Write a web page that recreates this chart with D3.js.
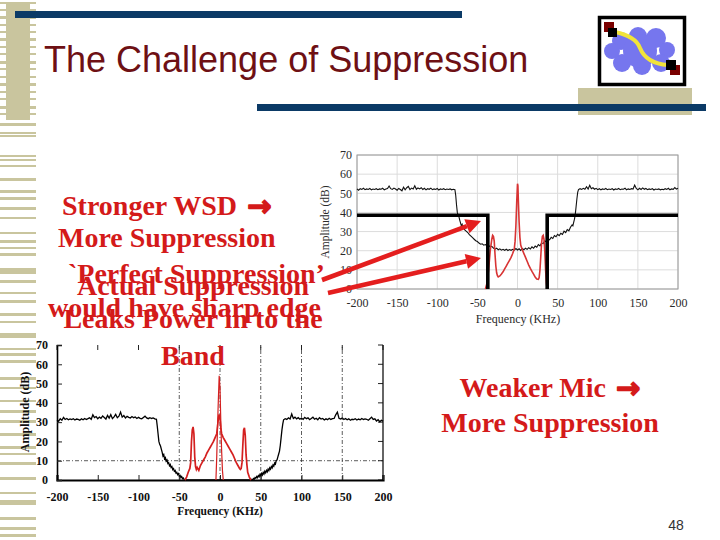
<!DOCTYPE html>
<html><head><meta charset="utf-8">
<script src="https://cdn.jsdelivr.net/npm/d3@7"></script>
<style>body{margin:0;background:#fff} svg{display:block}</style>
</head><body><svg id="c" width="720" height="540"></svg>
<script>
// ---------------- data ----------------
const xTicks = [-200,-150,-100,-50,0,50,100,150,200];
const yTicks = [0,10,20,30,40,50,60,70];
const bottomGridX = [-50,0,50,100,150];
const bottomGridY = [10];

const topBlack = [[-200,52.3],[-198,51.6],[-196,52.4],[-194,52.0],[-192,52.6],[-190,51.9],[-188,52.3],[-186,52.0],[-184,52.5],[-182,51.8],[-180,52.2],[-178,52.0],[-176,52.4],[-174,51.9],[-172,52.3],[-170,52.1],[-168,52.6],[-166,51.8],[-164,52.2],[-162,52.5],[-160,53.8],[-158,52.4],[-156,52.0],[-154,52.7],[-152,52.2],[-150,51.6],[-148,52.5],[-146,52.0],[-144,51.3],[-142,53.2],[-140,51.8],[-138,52.9],[-136,53.6],[-134,51.9],[-132,52.7],[-130,52.2],[-128,53.9],[-126,52.1],[-124,52.8],[-122,52.3],[-120,52.9],[-118,52.0],[-116,52.6],[-114,51.8],[-112,52.4],[-110,52.1],[-108,52.7],[-106,51.9],[-104,52.3],[-102,52.0],[-100,52.5],[-98,51.7],[-96,52.3],[-94,52.0],[-92,52.4],[-90,51.9],[-88,52.2],[-86,52.0],[-84,52.3],[-82,51.8],[-80,52.1],[-78,51.9],[-77,49],[-76,44],[-75,40],[-74,38.5],[-73,37.8],[-72,36],[-71,34.5],[-70,33],[-69,33.8],[-68,32],[-67,32.6],[-66,31],[-64,30.2],[-62,29.5],[-60,28.4],[-58,27.6],[-56,26.8],[-54,26],[-52,25.2],[-50,24.8],[-48,24],[-46,23.4],[-44,23.6],[-42,22.9],[-40,23.2],[-38,22.5],[-36,22.8],[-34,22],[-32,22.3],[-30,21.4],[-28,20.8],[-26,21.3],[-24,20.5],[-22,21],[-20,20.3],[-18,20.7],[-16,20.2],[-14,20.8],[-12,20.1],[-10,20.6],[-8,20.2],[-6,20.7],[-4,20.3],[-2,21.1],[0,20.4],[2,21],[4,20.2],[6,21.2],[8,20.5],[10,21.3],[12,20.7],[14,21.6],[16,20.9],[18,22],[20,21.3],[22,22.4],[24,21.8],[26,23.2],[28,22.5],[30,24.1],[32,23.7],[34,25.2],[36,24.6],[38,26.1],[40,25.7],[42,27],[44,26.4],[46,27.9],[48,27.3],[50,28.6],[52,27.9],[54,29.1],[56,28.5],[58,30.2],[60,29.5],[62,31],[64,30.4],[66,32.3],[68,33.5],[69,33],[70,34.8],[71,36.5],[72,39],[73,43],[74,47],[75,50.5],[76,51.9],[78,52.4],[80,52],[82,52.6],[84,52.1],[86,53.4],[88,52.2],[90,54.2],[92,52.4],[94,52.9],[96,52.1],[98,52.6],[100,51.9],[102,52.4],[104,51.8],[106,52.3],[108,52.0],[110,52.5],[112,51.9],[114,52.2],[116,52.0],[118,52.4],[120,51.7],[122,52.3],[124,52.0],[126,52.5],[128,51.9],[130,52.2],[132,52.1],[134,52.6],[136,51.8],[138,52.3],[140,52.0],[142,52.4],[144,52.2],[146,54.3],[148,52.5],[150,51.8],[152,52.6],[154,52.0],[156,52.8],[158,52.1],[160,52.5],[162,51.9],[164,52.3],[166,52.0],[168,52.4],[170,51.7],[172,52.2],[174,52.0],[176,52.3],[178,51.8],[180,52.1],[182,51.9],[184,52.4],[186,52.0],[188,52.6],[190,51.8],[192,52.3],[194,52.1],[196,53.0],[198,52.2],[200,52.6]];

const topRed = [[-40,0],[-38,3],[-36,10],[-34,20],[-32,26],[-31,28],[-30,27.5],[-29,25],[-28,18],[-27,12],[-26,8.5],[-25,7],[-24,6.3],[-22,6.8],[-20,7.8],[-18,9],[-16,10.5],[-14,12],[-12,13.5],[-10,15],[-8,16.5],[-6,18.5],[-4,21],[-3,25],[-2,33],[-1,45],[0,55],[0.5,54],[1,47],[2,35],[3,27],[4,23],[6,20.5],[8,18.5],[10,16.5],[12,14.5],[14,12.5],[16,10.8],[18,9.2],[20,7.8],[22,6.3],[24,5.2],[26,5],[27,6],[28,10],[29,17],[30,24],[31,27.5],[32,28],[33,26],[34,20],[35,10],[36,3],[37,0]];

const perfectLeft = [[-200,38.5],[-37,38.5],[-37,0]];
const perfectRight = [[37,0],[37,38.5],[200,38.5]];

const bottomBlack = [[-200,31.2],[-198,30.5],[-196,31.8],[-194,31.0],[-192,32.5],[-190,31.4],[-188,31.9],[-186,31.2],[-184,31.7],[-182,31.3],[-180,31.8],[-178,31.1],[-176,31.6],[-174,31.4],[-172,31.0],[-170,31.7],[-168,31.2],[-166,31.9],[-164,31.4],[-162,31.8],[-160,32.3],[-158,31.5],[-156,33.8],[-154,32.4],[-152,32.9],[-150,31.8],[-148,32.6],[-146,32.0],[-144,33.2],[-142,32.4],[-140,31.6],[-138,33.5],[-136,32.1],[-134,33.9],[-132,31.8],[-130,32.7],[-128,34.0],[-126,32.3],[-124,33.1],[-122,35.2],[-120,32.6],[-118,33.4],[-116,32.2],[-114,33.0],[-112,32.5],[-110,32.1],[-108,32.9],[-106,32.3],[-104,32.7],[-102,31.9],[-100,32.5],[-98,32.0],[-96,31.7],[-94,32.4],[-92,33.1],[-90,32.2],[-88,31.8],[-86,32.3],[-84,31.9],[-82,32.2],[-80,31.7],[-78,31.5],[-77,28],[-76,24],[-75,20],[-74,18.5],[-73,17.6],[-72,16],[-71,14.5],[-70,12.5],[-69,13.2],[-68,11],[-67,11.6],[-66,9.8],[-65,10.4],[-64,8.6],[-63,9],[-62,7.4],[-61,8],[-60,6.5],[-59,7],[-58,5.4],[-57,5.9],[-56,4.5],[-55,4.9],[-54,3.6],[-53,4],[-52,2.8],[-51,3.3],[-50,2],[-49,2.4],[-48,1.3],[-47,1.8],[-46,0.7],[-45,1],[-44,0.2],[-43,0],[38,0],[39,0.3],[40,0],[41,0.8],[42,0.4],[43,1.3],[44,0.9],[45,1.8],[46,1.2],[47,2.3],[48,1.7],[49,2.9],[50,2.2],[51,3.4],[52,2.6],[53,3.9],[54,3.1],[55,4.5],[56,3.7],[57,5],[58,4.2],[59,5.6],[60,4.9],[61,6.3],[62,5.6],[63,7],[64,6.3],[65,7.8],[66,7.2],[67,8.8],[68,8.3],[69,10],[70,10.4],[71,12],[72,13.5],[73,15],[74,18],[75,22],[76,26],[77,29],[78,31.2],[80,31.8],[82,31.4],[84,32.2],[86,31.6],[88,34.2],[90,31.9],[92,32.6],[94,31.7],[96,32.3],[98,31.5],[100,32.1],[102,31.4],[104,32.5],[106,31.8],[108,32.2],[110,31.3],[112,31.9],[114,32.6],[116,31.5],[118,32.0],[120,31.2],[122,32.3],[124,31.6],[126,31.9],[128,31.1],[130,31.7],[132,31.3],[134,32.0],[136,31.4],[138,31.8],[140,31.9],[142,33.8],[144,35.2],[146,32.0],[148,31.6],[150,32.2],[152,31.4],[154,31.9],[156,31.2],[158,31.7],[160,31.0],[162,31.5],[164,31.3],[166,31.8],[168,31.1],[170,31.6],[172,31.2],[174,31.9],[176,31.4],[178,31.7],[180,31.5],[182,31.0],[184,31.8],[186,32.6],[188,31.4],[190,31.7],[192,30.6],[194,31.3],[196,30.2],[198,31.0],[200,30.5]];

const bottomRedBroad = [[-43,0],[-41,1.5],[-39,4],[-37,6],[-36,9],[-35,20],[-34,26],[-33,27.5],[-32,24],[-31,12],[-30,7],[-29,5.5],[-28,6.5],[-26,5],[-24,7.5],[-22,9],[-20,10.5],[-18,12],[-16,14],[-14,15.5],[-12,17],[-10,18.5],[-8,20],[-6,22],[-4,24],[-3,28],[-2,32],[-1,34],[0,32],[1,27],[2,24],[4,22],[6,20.5],[8,19],[10,17.5],[12,16],[14,14.5],[16,13],[18,11],[20,9],[22,7.5],[24,6],[25,5.5],[26,6],[27,9],[28,18],[29,26],[30,27],[31,23],[32,13],[33,8],[34,4],[36,1.5],[38,0]];
const bottomRedNarrow = [[-5,0],[-4,12],[-3,28],[-2,42],[-1,54],[0,48],[1,30],[2,15],[3,5],[4,0]];

const titleText = "The Challenge of Suppression";
const textA = ["Stronger WSD", "More Suppression", "`Perfect Suppression’", "would have sharp edge"];
const textB = ["Actual Suppression", "Leaks Power in to the", "Band"];
const textC = ["Weaker Mic", "More Suppression"];
const pageNumber = "48";

// --------------- drawing ----------------
const svg = d3.select("#c");
svg.append("rect").attr("width",720).attr("height",540).attr("fill","#fff");

// left decoration
const khaki = "#C9C59E";
const stripes = [[2,2],[9,2],[16,3],[24,2],[31,2],[38,3],[46,2],[53,2],[61,3],[68,2],[76,2],[83,3],[91,2],[98,2],[106,3],[113,2],[123,3],[132,2],[135,2],[155,2],[159,2],[165,2],[178,3],[190,3],[197,3],[207,3],[217,2],[232,2],[240,3],[247,2],[253,3],[268,6],[280,3],[292,2],[300,3],[313,3],[321,2],[333,5],[348,2],[353,3],[360,3],[377,3],[387,2],[400,2],[410,3],[420,3],[433,3],[446,3],[453,2],[462,3],[477,3],[492,2],[500,5],[517,3],[527,3],[534,3]];
const deco = svg.append("g");
deco.selectAll("rect.s").data(stripes).join("rect").attr("class","s")
  .attr("x",0).attr("y",d=>d[0]).attr("width",36).attr("height",d=>d[1]).attr("fill",khaki);
deco.append("rect").attr("x",6).attr("y",3).attr("width",24).attr("height",117).attr("fill",khaki);

// bars
svg.append("rect").attr("x",578).attr("y",88).attr("width",114).attr("height",27).attr("fill",khaki);
svg.append("rect").attr("x",15).attr("y",11).attr("width",447).attr("height",7).attr("fill","#0B3A66");
svg.append("rect").attr("x",257).attr("y",104).attr("width",449).attr("height",7).attr("fill","#0B3A66");

// title
svg.append("text").attr("x",44).attr("y",72).text(titleText)
  .attr("font-family","'Liberation Sans', Arial, sans-serif").attr("font-size",36).attr("fill","#6E1014");

// logo
const logo = svg.append("g");
logo.append("rect").attr("x",599.5).attr("y",17.5).attr("width",85).attr("height",67).attr("fill","#fff").attr("stroke","#000").attr("stroke-width",3.5);
const cloud = [[621,41,9],[638,36,9],[656,38,10],[667,50,8],[661,63,9],[642,66,9],[622,63,9],[612,51,8],[640,51,17]];
logo.selectAll("circle").data(cloud).join("circle").attr("cx",d=>d[0]).attr("cy",d=>d[1]).attr("r",d=>d[2]).attr("fill","#7676EE");
logo.append("rect").attr("x",604).attr("y",22).attr("width",10).attr("height",10).attr("fill","#7A0000");
logo.append("rect").attr("x",670).attr("y",65).attr("width",10).attr("height",10).attr("fill","#7A0000");
logo.append("path").attr("d","M615,32 C630,35 637,40 640,48 C644,58 654,64 668,65").attr("fill","none").attr("stroke","#F2E43A").attr("stroke-width",4);
logo.append("rect").attr("x",608).attr("y",28).attr("width",9).attr("height",9).attr("fill","#000");
logo.append("rect").attr("x",666).attr("y",60).attr("width",10).attr("height",10).attr("fill","#000");

const fmt = d => String(d);
// ---------- top chart ----------
const xT = d3.scaleLinear().domain([-200,200]).range([357,678]);
const yT = d3.scaleLinear().domain([0,70]).range([289,155]);
const gT = svg.append("g");
gT.selectAll("line.gx").data(xTicks).join("line").attr("class","gx")
  .attr("x1",d=>xT(d)).attr("x2",d=>xT(d)).attr("y1",yT(0)).attr("y2",yT(70)).attr("stroke","#dcdcdc").attr("stroke-width",1);
gT.selectAll("line.gy").data(yTicks).join("line").attr("class","gy")
  .attr("y1",d=>yT(d)).attr("y2",d=>yT(d)).attr("x1",xT(-200)).attr("x2",xT(200)).attr("stroke","#dcdcdc").attr("stroke-width",1);
gT.append("rect").attr("x",xT(-200)).attr("y",yT(70)).attr("width",xT(200)-xT(-200)).attr("height",yT(0)-yT(70))
  .attr("fill","none").attr("stroke","#9a9a9a").attr("stroke-width",1);
const axTB = gT.append("g").attr("transform",`translate(0,${yT(0)})`)
  .call(d3.axisBottom(xT).tickValues(xTicks).tickFormat(fmt).tickSize(0).tickPadding(9));
const axTL = gT.append("g").attr("transform",`translate(${xT(-200)},0)`)
  .call(d3.axisLeft(yT).tickValues(yTicks).tickFormat(fmt).tickSize(0).tickPadding(5));
[axTB,axTL].forEach(a=>{a.select(".domain").remove();
  a.selectAll("text").attr("font-family","'Liberation Serif','Times New Roman',serif").attr("font-size",12).attr("fill","#2a2a2a");});
gT.append("text").attr("x",518).attr("y",323).attr("text-anchor","middle").text("Frequency (KHz)")
  .attr("font-family","'Liberation Serif','Times New Roman',serif").attr("font-size",12).attr("fill","#2a2a2a");
gT.append("text").attr("transform","translate(329,222) rotate(-90)").attr("text-anchor","middle").text("Amplitude (dB)")
  .attr("font-family","'Liberation Serif','Times New Roman',serif").attr("font-size",11.5).attr("fill","#2a2a2a");
const lineT = d3.line().x(d=>xT(d[0])).y(d=>yT(d[1]));
gT.append("path").attr("d",lineT(topBlack)).attr("fill","none").attr("stroke","#111").attr("stroke-width",1.1);
gT.append("path").attr("d",lineT(topRed)).attr("fill","none").attr("stroke","#D83434").attr("stroke-width",1.6);
[perfectLeft,perfectRight].forEach(p=>gT.append("path").attr("d",lineT(p)).attr("fill","none").attr("stroke","#000").attr("stroke-width",3.6));

// ---------- bottom chart ----------
const xB = d3.scaleLinear().domain([-200,200]).range([57,383]);
const yB = d3.scaleLinear().domain([0,70]).range([480,345]);
const gB = svg.append("g");
gB.selectAll("line.gx").data(bottomGridX).join("line").attr("class","gx")
  .attr("x1",d=>xB(d)).attr("x2",d=>xB(d)).attr("y1",yB(0)).attr("y2",yB(70))
  .attr("stroke","#333").attr("stroke-width",0.8).attr("stroke-dasharray","4,2,1,2");
gB.selectAll("line.gy").data(bottomGridY).join("line").attr("class","gy")
  .attr("y1",d=>yB(d)).attr("y2",d=>yB(d)).attr("x1",xB(-200)).attr("x2",xB(200))
  .attr("stroke","#333").attr("stroke-width",0.8).attr("stroke-dasharray","4,2,1,2");
gB.selectAll("line.tt").data(xTicks).join("line").attr("class","tt")
  .attr("x1",d=>xB(d)).attr("x2",d=>xB(d)).attr("y1",yB(70)).attr("y2",yB(70)+5).attr("stroke","#222").attr("stroke-width",1);
gB.selectAll("line.tr").data(yTicks).join("line").attr("class","tr")
  .attr("x1",xB(200)).attr("x2",xB(200)-5).attr("y1",d=>yB(d)).attr("y2",d=>yB(d)).attr("stroke","#222").attr("stroke-width",1);
gB.append("line").attr("x1",xB(200)).attr("x2",xB(200)).attr("y1",yB(0)).attr("y2",yB(70)).attr("stroke","#111").attr("stroke-width",1.3);
const axBB = gB.append("g").attr("transform",`translate(0,${yB(0)})`)
  .call(d3.axisBottom(xB).tickValues(xTicks).tickFormat(fmt).tickSize(-5).tickPadding(12));
const axBL = gB.append("g").attr("transform",`translate(${xB(-200)},0)`)
  .call(d3.axisLeft(yB).tickValues(yTicks).tickFormat(fmt).tickSize(-5).tickPadding(9));
axBB.select(".domain").attr("stroke","#000").attr("stroke-width",2.2);
axBL.select(".domain").attr("stroke","#000").attr("stroke-width",1.6);
[axBB,axBL].forEach(a=>{a.selectAll(".tick line").attr("stroke","#222");
  a.selectAll("text").attr("font-family","'Liberation Serif','Times New Roman',serif").attr("font-weight","bold").attr("font-size",12).attr("fill","#111");});
gB.append("text").attr("x",220).attr("y",515).attr("text-anchor","middle").text("Frequency (KHz)")
  .attr("font-family","'Liberation Serif','Times New Roman',serif").attr("font-weight","bold").attr("font-size",11.5).attr("fill","#111");
gB.append("text").attr("transform","translate(29,412) rotate(-90)").attr("text-anchor","middle").text("Amplitude (dB)")
  .attr("font-family","'Liberation Serif','Times New Roman',serif").attr("font-weight","bold").attr("font-size",12).attr("fill","#111");
const lineB = d3.line().x(d=>xB(d[0])).y(d=>yB(d[1]));
gB.append("path").attr("d",lineB(bottomBlack)).attr("fill","none").attr("stroke","#000").attr("stroke-width",1.3);
gB.append("path").attr("d",lineB(bottomRedBroad)).attr("fill","none").attr("stroke","#D42020").attr("stroke-width",1.7);
gB.append("path").attr("d",lineB(bottomRedNarrow)).attr("fill","none").attr("stroke","#D42020").attr("stroke-width",1.2);

// ---------- red arrows ----------
const arrowColor = "#E41E1E";
function arrow(x1,y1,x2,y2){
  const a = Math.atan2(y2-y1,x2-x1), L=15, W=7.5;
  const bx = x2-L*Math.cos(a), by = y2-L*Math.sin(a);
  svg.append("line").attr("x1",x1).attr("y1",y1).attr("x2",bx).attr("y2",by).attr("stroke",arrowColor).attr("stroke-width",4.6);
  const p = [[x2,y2],[bx+W*Math.sin(a),by-W*Math.cos(a)],[bx-W*Math.sin(a),by+W*Math.cos(a)]];
  svg.append("polygon").attr("points",p.map(q=>q.join(",")).join(" ")).attr("fill",arrowColor);
}
arrow(322,280,481,221);
arrow(328,293,481,258);

// ---------- red text ----------
const serif = "'Liberation Serif','Times New Roman',serif";
const red = "#D41A1A";
function redText(x,y,anchor,str,withArrow){
  const t = svg.append("text").attr("x",x).attr("y",y).attr("text-anchor",anchor)
    .attr("font-family",serif).attr("font-weight","bold").attr("font-size",28).attr("fill",red);
  t.append("tspan").text(str);
  if(withArrow) t.append("tspan").attr("font-family","'DejaVu Sans',sans-serif").attr("font-size",29).attr("dy",1)
    .attr("stroke",red).attr("stroke-width",1.6).attr("stroke-linejoin","round").text(" →");
}
const aX = [62,58,68,48], aY = [215,247,283,317];
textA.forEach((s,i)=>redText(aX[i],aY[i],"start",s,i===0));
const bY = [295,328,365];
textB.forEach((s,i)=>redText(193,bY[i],"middle",s,false));
const cY = [397,432];
textC.forEach((s,i)=>redText(550,cY[i],"middle",s,i===0));

svg.append("text").attr("x",676).attr("y",530).attr("text-anchor","middle").text(pageNumber)
  .attr("font-family","'Liberation Sans',Arial,sans-serif").attr("font-size",14).attr("fill","#333");
</script></body></html>
